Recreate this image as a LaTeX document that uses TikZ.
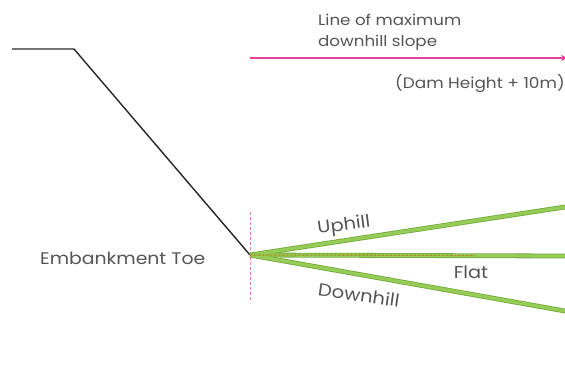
\documentclass[tikz,border=0pt]{standalone}
\usepackage{fontspec}
\setmainfont[FakeStretch=1.12]{Poppins}
\usetikzlibrary{arrows.meta}
\definecolor{txt}{HTML}{555555}
\definecolor{pinkl}{HTML}{E8409C}
\definecolor{grout}{HTML}{74A838}
\definecolor{grin}{HTML}{96CC58}
\definecolor{ydash}{HTML}{A88E20}
\tikzset{
  lbl/.style={text=txt, inner sep=0pt},
  outerg/.style={line width=4.8pt, grout},
  innerg/.style={line width=3.2pt, grin},
}
\begin{document}
\begin{tikzpicture}[x=1pt,y=-1pt]
\useasboundingbox (0,0) rectangle (565,367);
% embankment
\coordinate (crestL) at (12,49);
\coordinate (crestR) at (74,49);
\coordinate (toe) at (250,255);
\draw[line width=1.4pt, black!85] (crestL) -- (crestR) -- (toe);
% dashed vertical
\coordinate (vt) at (250,212);
\coordinate (vb) at (250,302);
\draw[pinkl!70, line width=0.8pt, dash pattern=on 2.5pt off 2.5pt] (vt) -- (vb);
% green lines
\coordinate (up) at (565,207);
\coordinate (fl) at (565,256);
\coordinate (dn) at (565,311);
\foreach \e in {up,fl,dn} \draw[outerg] (toe) -- (\e);
\foreach \e in {up,fl,dn} \draw[innerg] (toe) -- (\e);
\coordinate (yd) at (475,255.5);
\draw[ydash, line width=1.1pt, dash pattern=on 2.5pt off 1.5pt] (toe) -- (yd);
% pink arrow
\coordinate (pa) at (250,58);
\coordinate (pb) at (567,58);
\draw[pinkl, line width=2pt, -{Stealth[length=6pt,width=6pt]}] (pa) -- (pb);
% labels
\node[lbl, font=\fontsize{14.9}{21}\selectfont, anchor=base west] (lms1) at (318,25) {Line of maximum};
\node[lbl, font=\fontsize{14.9}{21}\selectfont, anchor=base west] (lms2) at (318,46) {downhill slope};
\node[lbl, font=\fontsize{15.1}{18}\selectfont, anchor=base west] (dh) at (395,88) {(Dam Height + 10m)};
\node[lbl, font=\fontsize{16.8}{20}\selectfont, anchor=base west] (emb) at (40,264) {Embankment Toe};
\node[lbl, font=\fontsize{17.4}{20}\selectfont, rotate=7.5] (uph) at (344,226) {Uphill};
\node[lbl, font=\fontsize{17.2}{20}\selectfont] (flat) at (471,272) {Flat};
\node[lbl, font=\fontsize{17.5}{20}\selectfont, rotate=-8] (dnh) at (359,295) {Downhill};
\end{tikzpicture}
\end{document}
